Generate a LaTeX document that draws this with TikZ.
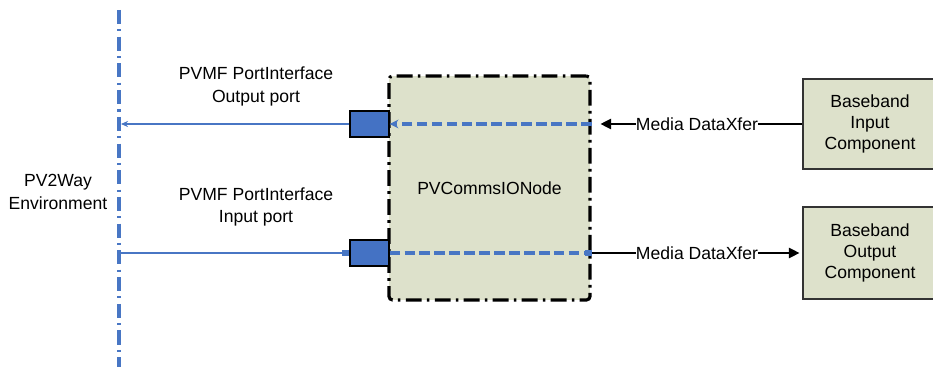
\documentclass[tikz,border=0pt]{standalone}
\usepackage{fontspec}
\setmainfont{Liberation Sans}
\usetikzlibrary{arrows.meta}
\definecolor{boxgreen}{RGB}{221,225,203}
\definecolor{portblue}{RGB}{68,114,196}
\definecolor{lineblue}{RGB}{72,118,196}
\tikzset{
	component/.style={draw=black!80, line width=0.7pt, fill=boxgreen,
		minimum width=2.68cm, align=center, font=\fontsize{10}{12}\selectfont},
	port/.style={draw=black, line width=0.7pt, fill=portblue,
		minimum width=0.78cm, minimum height=0.52cm, inner sep=0pt},
	portline/.style={draw=lineblue, line width=0.6pt},
	portdash/.style={draw=lineblue, line width=2.2pt, dash pattern=on 6pt off 2.5pt},
	medialine/.style={draw=black, line width=0.6pt},
	mdx/.style={fill=white, inner sep=0pt, font=\fontsize{10}{12}\selectfont},
	lbl/.style={align=center, font=\fontsize{10}{13}\selectfont},
}
\begin{document}
\begin{tikzpicture}[x=0.02cm, y=-0.02cm]
	\useasboundingbox (0,0) rectangle (933,367);
	% Grenze der Umgebung
	\coordinate (envtop) at (119,10);
	\coordinate (envbot) at (119,367);
	\draw[lineblue, line width=1.8pt, dash pattern=on 8pt off 3pt on 1.2pt off 3pt]
		(envtop) -- (envbot);
	\coordinate (envout) at (121,124);
	\coordinate (envin) at (121,253);
	% IO-Knoten
	\node[draw=black, line width=1.8pt, dash pattern=on 9pt off 3pt on 1.5pt off 3pt,
		rounded corners=2pt, fill=boxgreen, minimum width=4.02cm, minimum height=4.48cm,
		font=\fontsize{10}{12}\selectfont] (ionode) at (489.5,188) {PVCommsIONode};
	% Ports
	\node[port] (outport) at (369.5,124) {};
	\node[port] (inport) at (369.5,253) {};
	% Komponenten
	\node[component, minimum height=1.8cm] (bbin) at (870,124) {Baseband\\Input\\Component};
	\node[component, minimum height=1.84cm] (bbout) at (870,253) {Baseband\\Output\\Component};
	% Beschriftungen
	\node[lbl] (outlbl) at (256,86.5) {PVMF PortInterface\\Output port};
	\node[lbl] (inlbl) at (256,207) {PVMF PortInterface\\Input port};
	\node[lbl] (envlbl) at (58,192) {PV2Way\\Environment};
	% Ausgang
	\draw[portline, -{Stealth[length=4pt,width=3.5pt]}] (outport.west) -- (envout);
	\draw[portdash, -{Stealth[length=5pt,width=5pt]}] (outport.east -| ionode.east)
		-- (outport.east);
	\draw[medialine, -{Triangle[length=6pt,width=6pt]}, shorten >=0.18cm] (bbin.west)
		-- node[mdx] (mdxout) {Media DataXfer} (bbin.west -| ionode.east);
	% Eingang
	\draw[portline, -{Square[length=4pt,width=3pt]}] (envin) -- (inport.west);
	\draw[portdash, -{Square[length=4pt,width=3.5pt]}] (inport.east)
		-- (inport.east -| ionode.east);
	\draw[medialine, -{Triangle[length=6pt,width=6pt]}, shorten >=0.06cm]
		(inport.east -| ionode.east)
		-- node[mdx] (mdxin) {Media DataXfer} (bbout.west);
\end{tikzpicture}
\end{document}
